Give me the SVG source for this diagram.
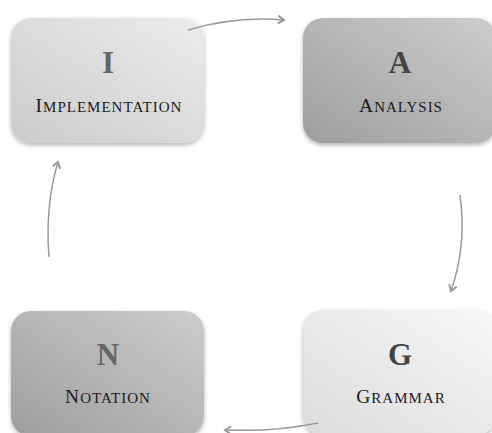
<svg xmlns="http://www.w3.org/2000/svg" width="492" height="433" viewBox="0 0 492 433">
<style>
.box{stroke:none;filter:url(#sh)}
.big{font-family:"Liberation Serif",serif;font-weight:bold;font-size:31px;fill:#666;text-anchor:middle}
.dk{fill:#444}
.lbl{font-family:"Liberation Serif",serif;font-size:15px;letter-spacing:1px;fill:#1a1a1a;text-anchor:middle}
.cap{font-size:19.5px}
.con{fill:none;stroke:#9a9a9a;stroke-width:1.5;marker-end:url(#ah)}
</style>
<defs>
<filter id="sh" x="-10%" y="-10%" width="120%" height="130%">
<feDropShadow dx="0" dy="2" stdDeviation="2" flood-color="#000" flood-opacity="0.3"/>
</filter>
<linearGradient id="gl" x1="0" y1="1" x2="1" y2="0">
<stop offset="0" stop-color="#cbcbcb"/>
<stop offset="1" stop-color="#ececec"/>
</linearGradient>
<linearGradient id="gd" x1="0" y1="1" x2="1" y2="0">
<stop offset="0" stop-color="#9d9d9d"/>
<stop offset="1" stop-color="#cdcdcd"/>
</linearGradient>
<linearGradient id="gg" x1="0" y1="1" x2="1" y2="0">
<stop offset="0" stop-color="#dcdcdc"/>
<stop offset="1" stop-color="#f7f7f7"/>
</linearGradient>
<marker id="ah" viewBox="0 0 10 10" refX="8" refY="5" markerWidth="10" markerHeight="10" markerUnits="userSpaceOnUse" orient="auto">
<path d="M2,1 L8,5 L2,9" fill="none" stroke="#999" stroke-width="2"/>
</marker>
</defs>
<g id="node-I">
<rect class="box" x="11" y="18" width="193" height="125" rx="20" fill="url(#gl)"/>
<text class="big" x="108" y="73">I</text>
<text class="lbl" x="109" y="112"><tspan class="cap">I</tspan>MPLEMENTATION</text>
</g>
<g id="node-A">
<rect class="box" x="303" y="18" width="193" height="125" rx="20" fill="url(#gd)"/>
<text class="big dk" x="400" y="73">A</text>
<text class="lbl" x="401" y="112"><tspan class="cap">A</tspan>NALYSIS</text>
</g>
<g id="node-N">
<rect class="box" x="11" y="311" width="193" height="125" rx="20" fill="url(#gd)"/>
<text class="big" x="108" y="365">N</text>
<text class="lbl" x="108" y="403"><tspan class="cap">N</tspan>OTATION</text>
</g>
<g id="node-G">
<rect class="box" x="303" y="310" width="193" height="125" rx="20" fill="url(#gg)"/>
<text class="big dk" x="400" y="365">G</text>
<text class="lbl" x="401" y="403"><tspan class="cap">G</tspan>RAMMAR</text>
</g>
<g id="connectors">
<path class="con" d="M188,30 Q235,16 284,20"/>
<path class="con" d="M460,195 Q467,245 451,291"/>
<path class="con" d="M318,423 Q275,432 225,430"/>
<path class="con" d="M49,257 Q45,205 58,162"/>
</g>
</svg>
